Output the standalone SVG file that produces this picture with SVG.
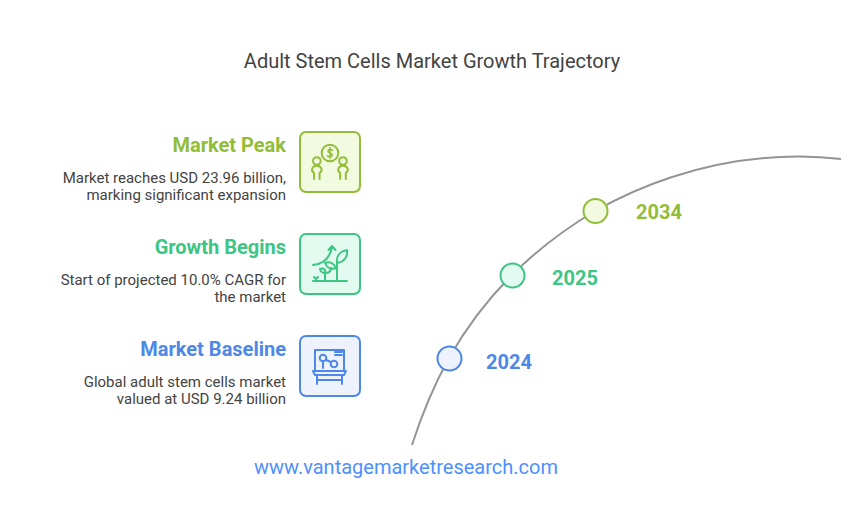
<svg xmlns="http://www.w3.org/2000/svg" width="864" height="527" viewBox="0 0 864 527">
<style>
text{font-family:Roboto,"Liberation Sans",sans-serif}
.title{font-size:20px;fill:#434343;text-anchor:middle}
.head{font-size:20px;font-weight:700;text-anchor:end}
.body{font-size:15px;fill:#434343;text-anchor:end}
.year{font-size:20px;font-weight:700}
.box{stroke-width:2}
.ic{fill:none;stroke-width:2;stroke-linecap:round;stroke-linejoin:round}
.g{stroke:#92bd39}
.t{stroke:#3cc583}
.b{stroke:#4e88e7}
</style>
<rect width="864" height="527" fill="#fff"/>
<text class="title" x="432" y="68">Adult Stem Cells Market Growth Trajectory</text>
<g id="connectors">
<path d="M412 445C422 414 434 385 449 358C466 328 487 300 512 275C537 250 565 229 595 211C625 194 700 156 800 156.500C814 156.700 827 157.500 841 159" fill="none" stroke="#949494" stroke-width="2"/>
</g>
<g id="node-2024">
<circle cx="449.500" cy="358.500" r="12" fill="#edf2fc" stroke="#4e88e7" stroke-width="2"/>
<text class="year" x="486" y="369" fill="#4e88e7">2024</text>
</g>
<g id="node-2025">
<circle cx="512.500" cy="275.500" r="12" fill="#e3faf0" stroke="#3cc583" stroke-width="2"/>
<text class="year" x="552" y="285" fill="#3cc583">2025</text>
</g>
<g id="node-2034">
<circle cx="595.500" cy="211" r="12" fill="#f2fadf" stroke="#92bd39" stroke-width="2"/>
<text class="year" x="636" y="219" fill="#92bd39">2034</text>
</g>
<g id="market-peak">
<text class="head" x="286" y="152" fill="#92bd39">Market Peak</text>
<text class="body" x="286" y="183">Market reaches USD 23.96 billion,</text>
<text class="body" x="286" y="200.400">marking significant expansion</text>
<rect class="box" x="300" y="132" width="60" height="60" rx="6" fill="#f2fadf" stroke="#92bd39"/>
<g class="ic g">
<circle cx="330" cy="153" r="8.300"/>
<path stroke-width="1.500" d="M332.500 150.200C331.500 149 328 149 328 151.200C328 153.500 332.300 152.500 332.300 155C332.300 157 328.500 157 327.500 155.700M330 147.500V158.500"/>
<circle cx="316.800" cy="161" r="3.800"/>
<circle cx="343" cy="161" r="3.800"/>
<path d="M314 179V173C311 171 311 166.500 316.800 165.500C322.600 166.500 322.600 171 319.600 173V179"/>
<path d="M340.200 179V173C337.200 171 337.200 166.500 343 165.500C348.800 166.500 348.800 171 345.800 173V179"/>
</g>
</g>
<g id="growth-begins">
<text class="head" x="286" y="254" fill="#3cc583">Growth Begins</text>
<text class="body" x="286" y="285">Start of projected 10.0% CAGR for</text>
<text class="body" x="286" y="302.400">the market</text>
<rect class="box" x="300" y="234" width="60" height="60" rx="6" fill="#e3faf0" stroke="#3cc583"/>
<g class="ic t">
<path d="M313 265C323 264 330 258 332 247M328.500 250L332 246L335.500 250"/>
<path d="M313 281H347M337 281V262"/>
<path d="M337 263C336 255 341 251 347 250C348 257 344 262 337 263Z"/>
<path d="M336 268C334 263 329 261 325 263C327 268 331 270 336 268Z"/>
<path d="M325 281V273M325 273C321 273 320 270 320 269C323 268 326 269 325 273ZM325 273C329 273 331 271 331 268"/>
<path d="M314 277L318 281M318 277L314 281"/>
</g>
</g>
<g id="market-baseline">
<text class="head" x="286" y="356" fill="#4e88e7">Market Baseline</text>
<text class="body" x="286" y="387">Global adult stem cells market</text>
<text class="body" x="286" y="404.400">valued at USD 9.24 billion</text>
<rect class="box" x="300" y="336" width="60" height="60" rx="6" fill="#edf2fc" stroke="#4e88e7"/>
<g class="ic b">
<path d="M315 371V350H344V371"/>
<path d="M313 371H346L344 375H315Z"/>
<path d="M317 375V384M342 375V384M317 380H342"/>
<circle cx="323" cy="358" r="3.300"/>
<circle cx="334" cy="364" r="3.300"/>
<path d="M323 361.500V368M326 360L331 362"/>
<path d="M335 352H342M335 355H342"/>
</g>
</g>
<text x="406" y="474" font-size="20" fill="#4d90fe" text-anchor="middle">www.vantagemarketresearch.com</text>
</svg>
